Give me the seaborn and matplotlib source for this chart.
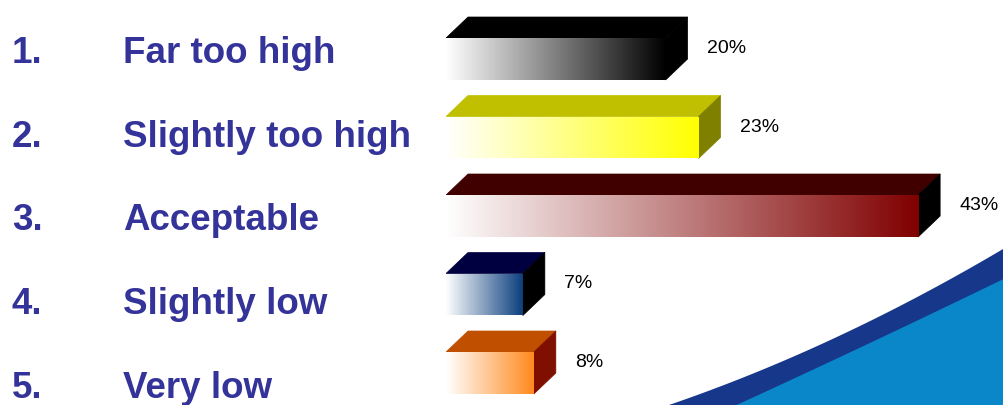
import numpy as np
import pandas as pd
import matplotlib
matplotlib.use("Agg")
import matplotlib.pyplot as plt
from matplotlib.patches import Polygon
from matplotlib.colors import LinearSegmentedColormap
import seaborn as sns

# ---- data ----
numbers = ["1.", "2.", "3.", "4.", "5."]
categories = ["Far too high", "Slightly too high", "Acceptable", "Slightly low", "Very low"]
values = [20, 23, 43, 7, 8]
value_labels = ["20%", "23%", "43%", "7%", "8%"]

# ---- styles ----
front_colors = ["#000000", "#FFFF00", "#800000", "#0B3F7E", "#FF8A1E"]
top_colors = ["#000000", "#C0C000", "#400000", "#000040", "#C04F00"]
side_colors = ["#000000", "#808000", "#000000", "#000000", "#7F1000"]
label_color = "#333399"

sns.set_theme(style="white")
plt.rcParams["font.family"] = ["Liberation Sans", "DejaVu Sans"]

W, H = 1004, 405
fig = plt.figure(figsize=(W / 100, H / 100), dpi=100)
fig.patch.set_facecolor("white")

# background decoration (blue swoosh) in pixel coordinates
bg = fig.add_axes([0, 0, 1, 1], zorder=0)
bg.set_xlim(0, W)
bg.set_ylim(H, 0)
bg.axis("off")
xs = np.linspace(640, W, 300)
u = xs - 667
navy_top = 405 - 0.3415 * u - 0.000372 * u ** 2
v = xs - 735
light_top = 405 - 0.4582 * v - 0.0000509 * v ** 2
bg.fill_between(xs, np.minimum(navy_top, H + 5), H + 5, color="#17378A", lw=0)
bg.fill_between(xs, np.minimum(light_top, H + 5), H + 5, color="#0A87C9", lw=0)

# chart axes: x=0 at pixel 446
x0_px = 446
px_per_unit = 10.98
ax = fig.add_axes([x0_px / W, 0, (W - x0_px) / W, 1], zorder=1)
ax.patch.set_alpha(0)

df = pd.DataFrame({"category": categories, "value": values})
sns.barplot(data=df, x="value", y="category", hue="category",
            palette=front_colors, orient="h", width=0.535, legend=False,
            ax=ax, saturation=1, linewidth=0)

row_px = 78.5
first_center_px = 59
xmax = (W - x0_px) / px_per_unit
ytop = -first_center_px / row_px
ybot = (H - first_center_px) / row_px
dx = 22 / px_per_unit
dy = 21 / row_px
gap = 19 / px_per_unit

for i, patch in enumerate(ax.patches):
    x0 = patch.get_x()
    w = patch.get_width()
    y0 = patch.get_y()
    h = patch.get_height()
    x1 = x0 + w
    yt, yb = min(y0, y0 + h), max(y0, y0 + h)
    patch.set_facecolor("none")
    # gradient front face
    cmap = LinearSegmentedColormap.from_list("g", ["#FFFFFF", front_colors[i]])
    grad = np.linspace(0, 1, 256).reshape(1, -1)
    im = ax.imshow(grad, extent=(x0, x1, yb, yt), aspect="auto", cmap=cmap,
                   zorder=3, interpolation="bilinear")
    im.set_clip_path(patch)
    # top face
    ax.add_patch(Polygon([(x0, yt), (x1, yt), (x1 + dx, yt - dy), (x0 + dx, yt - dy)],
                         closed=True, facecolor=top_colors[i], edgecolor=top_colors[i],
                         lw=0.5, zorder=2))
    # side face
    ax.add_patch(Polygon([(x1, yt), (x1, yb), (x1 + dx, yb - dy), (x1 + dx, yt - dy)],
                         closed=True, facecolor=side_colors[i], edgecolor=side_colors[i],
                         lw=0.5, zorder=2))
    # value label
    ax.text(x1 + dx + gap, (yt - dy + yb) / 2, value_labels[i], ha="left", va="center",
            fontsize=14, color="#000000", zorder=4)

ax.set_xlim(0, xmax)
ax.set_ylim(ybot, ytop)
ax.axis("off")

# category labels on the left
for i, (num, cat) in enumerate(zip(numbers, categories)):
    base_px = 63 + i * 83.75
    yf = 1 - base_px / H
    fig.text(12 / W, yf, num, ha="left", va="baseline", fontsize=26.5,
             fontweight="bold", color=label_color)
    fig.text(123 / W, yf, cat, ha="left", va="baseline", fontsize=26.5,
             fontweight="bold", color=label_color)

fig.savefig("out.png", dpi=100)
